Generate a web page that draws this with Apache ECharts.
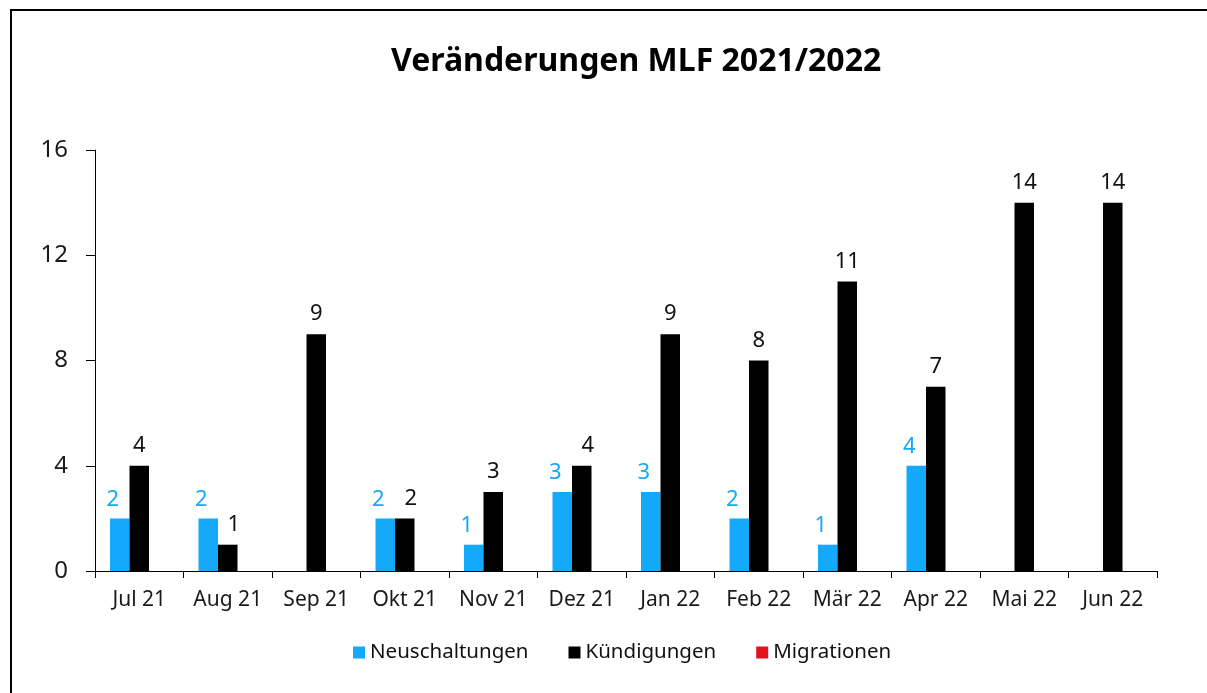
<!DOCTYPE html>
<html><head><meta charset="utf-8">
<script src="https://cdn.jsdelivr.net/npm/echarts@6/dist/echarts.min.js"></script>
<style>html,body{margin:0;padding:0;background:#fff}#c{width:1207px;height:693px}</style>
</head><body><div id="c"></div>
<script>
const categories = ['Jul 21','Aug 21','Sep 21','Okt 21','Nov 21','Dez 21','Jan 22','Feb 22','Mär 22','Apr 22','Mai 22','Jun 22'];
const neuschaltungen = [2, 2, null, 2, 1, 3, 3, 2, 1, 4, null, null];
const kuendigungen = [4, 1, 9, 2, 3, 4, 9, 8, 11, 7, 14, 14];
const migrationen = [null, null, null, null, null, null, null, null, null, null, null, null];
const yTicks = [0, 4, 8, 12, 16];

const font = 'Noto Sans';
const blue = '#14A9FA';
// nudge a black label right when it sits at nearly the same height as the blue one
const kData = kuendigungen.map((v, i) => {
  const n = neuschaltungen[i];
  if (n != null && Math.abs(n - v) <= 1) return {value: v, label: {offset: [6, 0]}};
  return v;
});

const chart = echarts.init(document.getElementById('c'));
chart.setOption({
  animation: false,
  graphic: [{type:'rect', shape:{x:11, y:10, width:1250, height:720}, style:{fill:'none', stroke:'#000', lineWidth:2}}],
  title: {text:'Veränderungen MLF 2021/2022', left:386, top:41,
    textStyle:{fontFamily:font, fontWeight:'bold', fontSize:32, color:'#000'}},
  legend: {bottom:25, left:348, itemWidth:12, itemHeight:12, itemGap:40, icon:'rect',
    textStyle:{fontFamily:font, fontSize:20.5, color:'#111'},
    data:['Neuschaltungen','Kündigungen','Migrationen']},
  grid: {left:95, right:50, top:150, bottom:122, containLabel:false},
  xAxis: {type:'category', data:categories,
    axisLine:{lineStyle:{color:'#000', width:1}},
    axisTick:{show:true, interval:0, length:7, lineStyle:{color:'#000'}, alignWithLabel:false},
    axisLabel:{interval:0, fontFamily:font, fontSize:21, color:'#1a1a1a', margin:19}},
  yAxis: {type:'value', min:0, max:16, interval:4,
    axisLine:{show:true, lineStyle:{color:'#000', width:1}},
    axisTick:{show:true, length:9, lineStyle:{color:'#000'}},
    splitLine:{show:false},
    axisLabel:{fontFamily:font, fontSize:24, color:'#1a1a1a', margin:27,
      formatter: v => yTicks.includes(v) ? String(v) : ''}},
  series: [
    {name:'Neuschaltungen', type:'bar', data:neuschaltungen, barWidth:19.5, barGap:'0%',
      itemStyle:{color:blue},
      label:{show:true, position:'top', distance:8, offset:[-7,0], fontFamily:font, fontSize:22, color:blue}},
    {name:'Kündigungen', type:'bar', data:kData, barWidth:19.5, barGap:'0%',
      itemStyle:{color:'#000'},
      label:{show:true, position:'top', distance:9, fontFamily:font, fontSize:22, color:'#111'}},
    {name:'Migrationen', type:'bar', data:migrationen, barWidth:19.5, barGap:'0%',
      itemStyle:{color:'#E3101E'},
      label:{show:true, position:'top', distance:9, fontFamily:font, fontSize:22, color:'#E3101E'}}
  ]
});
</script></body></html>
